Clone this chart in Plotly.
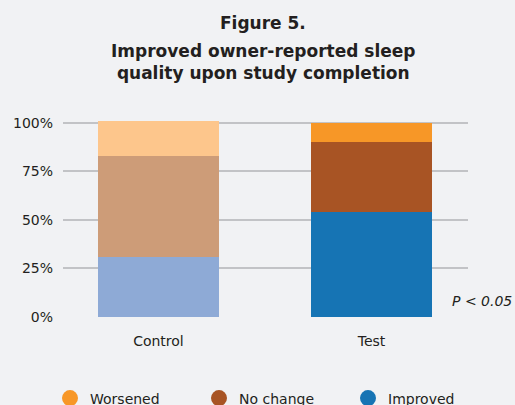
import plotly.graph_objects as go

categories = ["Control", "Test"]
improved = [31, 54]
no_change = [52, 36]
worsened = [18, 10]

series_names = ["Improved", "No change", "Worsened"]
control_colors = ["#8eaad6", "#cd9c78", "#fdc68c"]
test_colors = ["#1674b4", "#a85424", "#f79727"]
y_ticks = [0, 25, 50, 75, 100]
y_tick_labels = ["0%", "25%", "50%", "75%", "100%"]

FONT = "DejaVu Sans"
TXT = "#231f20"
BG = "#f1f2f4"

fig = go.Figure()
for name, vals, cc, tc in zip(series_names, [improved, no_change, worsened], control_colors, test_colors):
    fig.add_trace(go.Bar(x=categories, y=vals, name=name, marker=dict(color=[cc, tc], line=dict(width=0)),
                         width=0.568, showlegend=False, hoverinfo="x+y+name"))

for name, c in zip(["Worsened", "No change", "Improved"], ["#f79727", "#a85424", "#1674b4"]):
    fig.add_trace(go.Scatter(x=[None], y=[None], mode="markers", name=name,
                             marker=dict(color=c, size=18, symbol="circle")))

L, R, B = 63, 468, 317.3
pxu = 194.6 / 100
ymax = 102
T = B - ymax * pxu
H = B - T
W = R - L

def py(y):
    return (B - y) / H

def px(x):
    return (x - L) / W

fig.update_layout(
    width=515, height=405,
    margin=dict(l=L, r=515 - R, t=T, b=405 - B, pad=0, autoexpand=False),
    paper_bgcolor=BG, plot_bgcolor=BG,
    barmode="stack",
    font=dict(family=FONT, color=TXT, size=14),
    xaxis=dict(range=[-0.448, 1.453], showgrid=False, zeroline=False, showline=False,
               tickfont=dict(size=14, color=TXT), ticklabelstandoff=14, fixedrange=True),
    yaxis=dict(range=[0, ymax], tickvals=y_ticks, ticktext=y_tick_labels, showgrid=True,
               gridcolor="#c2c3c6", gridwidth=1.5, zeroline=False, showline=False,
               tickfont=dict(size=14, color=TXT), ticklabelstandoff=9, fixedrange=True),
    legend=dict(orientation="h", x=px(50), y=py(399), xanchor="left", yanchor="middle",
                traceorder="normal", font=dict(size=14, color=TXT), entrywidth=104,
                entrywidthmode="pixels", bgcolor="rgba(0,0,0,0)", itemclick=False),
    annotations=[
        dict(text="<b>Figure 5.</b>", xref="paper", yref="paper", x=px(263), y=py(23),
             xanchor="center", yanchor="middle", showarrow=False, font=dict(size=17, color=TXT)),
        dict(text="<b>Improved owner-reported sleep<br>quality upon study completion</b>", xref="paper",
             yref="paper", x=px(263), y=py(62), xanchor="center", yanchor="middle", showarrow=False,
             font=dict(size=17, color=TXT)),
        dict(text="<i>P < 0.05</i>", xref="paper", yref="paper", x=px(514), y=py(301.5),
             xanchor="right", yanchor="middle", showarrow=False, font=dict(size=14, color=TXT)),
    ],
)

fig.write_html("out.html", config={"displayModeBar": False},
               post_script="document.body.style.margin='0';document.body.style.background='%s';" % BG)
